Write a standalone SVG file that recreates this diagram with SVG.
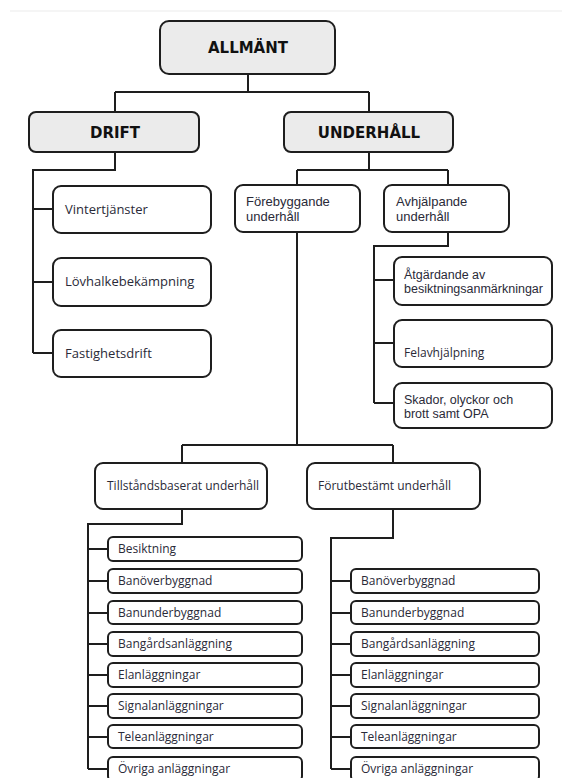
<svg xmlns="http://www.w3.org/2000/svg" width="562" height="778" viewBox="0 0 562 778">
<style>
.box{fill:#fff;stroke:#1e1e1e;stroke-width:2}
.hb{fill:#ebebeb;stroke:#1e1e1e;stroke-width:2}
.h{font-family:"DejaVu Sans",Verdana,sans-serif;font-weight:bold;font-size:15px;fill:#111;text-anchor:middle}
.t{font-family:"Open Sans","Noto Sans",sans-serif;font-size:13px;fill:#2a2a38}
.s{font-family:"Open Sans","Noto Sans",sans-serif;font-size:12px;fill:#2a2a38}
.m{font-family:"Liberation Sans",Arial,sans-serif;font-size:13px;fill:#2a2a38}
.n{font-family:"Liberation Sans",Arial,sans-serif;font-size:12.5px;fill:#2a2a38}
.c{fill:none;stroke:#1e1e1e;stroke-width:2}
</style>
<rect width="562" height="778" fill="#fff"/>
<line x1="10" y1="11" x2="562" y2="11" stroke="#f2f2f2" stroke-width="1.5"/>
<g id="connectors" class="c">
<path d="M248 74V92M115 92H369M115 92V112M369 92V112"/>
<path d="M115 152V170H33V353M33 209H53M33 282H53M33 353H53"/>
<path d="M369 152V170M297 170H448M297 170V185M448 170V185"/>
<path d="M448 232V246H374V403M374 280H394M374 343H394M374 403H394"/>
<path d="M297 232V445M182 445H393M182 445V463M393 445V463"/>
<path d="M182 509V524H88V769M88 549H108M88 581H108M88 613H108M88 644H108M88 675H108M88 706H108M88 737H108M88 769H108"/>
<path d="M393 509V538H331V769M331 581H351M331 613H351M331 644H351M331 675H351M331 706H351M331 737H351M331 769H351"/>
</g>
<g id="allmant"><rect class="hb" x="160" y="21" width="175" height="53" rx="9"/><text class="h" x="248" y="53">ALLMÄNT</text></g>
<g id="drift"><rect class="hb" x="29" y="112" width="170" height="40" rx="7"/><text class="h" x="115" y="138">DRIFT</text></g>
<g id="underhall"><rect class="hb" x="284" y="112" width="169" height="40" rx="7"/><text class="h" x="369" y="138">UNDERHÅLL</text></g>
<g id="vinter"><rect class="box" x="53" y="186" width="158" height="47" rx="8"/><text class="t" x="65" y="214">Vintertjänster</text></g>
<g id="lovhalka"><rect class="box" x="53" y="258" width="158" height="48" rx="8"/><text class="t" x="65" y="286">Lövhalkebekämpning</text></g>
<g id="fastighet"><rect class="box" x="53" y="330" width="158" height="47" rx="8"/><text class="t" x="65" y="358">Fastighetsdrift</text></g>
<g id="forebyggande"><rect class="box" x="235" y="185" width="125" height="47" rx="8"/><text class="m" x="246" y="206">Förebyggande<tspan x="246" dy="14.6">underhåll</tspan></text></g>
<g id="avhjalpande"><rect class="box" x="384" y="185" width="125" height="47" rx="8"/><text class="m" x="396" y="206">Avhjälpande<tspan x="396" dy="14.6">underhåll</tspan></text></g>
<g id="atgardande"><rect class="box" x="394" y="257" width="158" height="48" rx="8"/><text class="n" x="404" y="279">Åtgärdande av<tspan x="404" dy="14.1">besiktningsanmärkningar</tspan></text></g>
<g id="felavhjalpning"><rect class="box" x="394" y="320" width="158" height="47" rx="8"/><text class="s" x="404" y="357">Felavhjälpning</text></g>
<g id="skador"><rect class="box" x="394" y="383" width="158" height="45" rx="8"/><text class="n" x="404" y="404">Skador, olyckor och<tspan x="404" dy="14.1">brott samt OPA</tspan></text></g>
<g id="tillstand"><rect class="box" x="95" y="463" width="172" height="46" rx="8"/><text class="s" x="107" y="490">Tillståndsbaserat underhåll</text></g>
<g id="forutbestamt"><rect class="box" x="307" y="463" width="173" height="46" rx="8"/><text class="s" x="318" y="490">Förutbestämt underhåll</text></g>
<g id="l-besiktning"><rect class="box" x="108" y="537" width="194" height="24" rx="5"/><text class="s" x="118" y="553">Besiktning</text></g>
<g id="l-banover"><rect class="box" x="108" y="569" width="194" height="24" rx="5"/><text class="s" x="118" y="585">Banöverbyggnad</text></g>
<g id="l-banunder"><rect class="box" x="108" y="601" width="194" height="23" rx="5"/><text class="s" x="118" y="617">Banunderbyggnad</text></g>
<g id="l-bangard"><rect class="box" x="108" y="632" width="194" height="24" rx="5"/><text class="s" x="118" y="648">Bangårdsanläggning</text></g>
<g id="l-el"><rect class="box" x="108" y="663" width="194" height="24" rx="5"/><text class="s" x="118" y="679">Elanläggningar</text></g>
<g id="l-signal"><rect class="box" x="108" y="694" width="194" height="24" rx="5"/><text class="s" x="118" y="710">Signalanläggningar</text></g>
<g id="l-tele"><rect class="box" x="108" y="725" width="194" height="23" rx="5"/><text class="s" x="118" y="741">Teleanläggningar</text></g>
<g id="l-ovriga"><rect class="box" x="108" y="757" width="194" height="24" rx="5"/><text class="s" x="118" y="773">Övriga anläggningar</text></g>
<g id="r-banover"><rect class="box" x="351" y="569" width="188" height="24" rx="5"/><text class="s" x="361" y="585">Banöverbyggnad</text></g>
<g id="r-banunder"><rect class="box" x="351" y="601" width="188" height="23" rx="5"/><text class="s" x="361" y="617">Banunderbyggnad</text></g>
<g id="r-bangard"><rect class="box" x="351" y="632" width="188" height="24" rx="5"/><text class="s" x="361" y="648">Bangårdsanläggning</text></g>
<g id="r-el"><rect class="box" x="351" y="663" width="188" height="24" rx="5"/><text class="s" x="361" y="679">Elanläggningar</text></g>
<g id="r-signal"><rect class="box" x="351" y="694" width="188" height="24" rx="5"/><text class="s" x="361" y="710">Signalanläggningar</text></g>
<g id="r-tele"><rect class="box" x="351" y="725" width="188" height="23" rx="5"/><text class="s" x="361" y="741">Teleanläggningar</text></g>
<g id="r-ovriga"><rect class="box" x="351" y="757" width="188" height="24" rx="5"/><text class="s" x="361" y="773">Övriga anläggningar</text></g>
</svg>
